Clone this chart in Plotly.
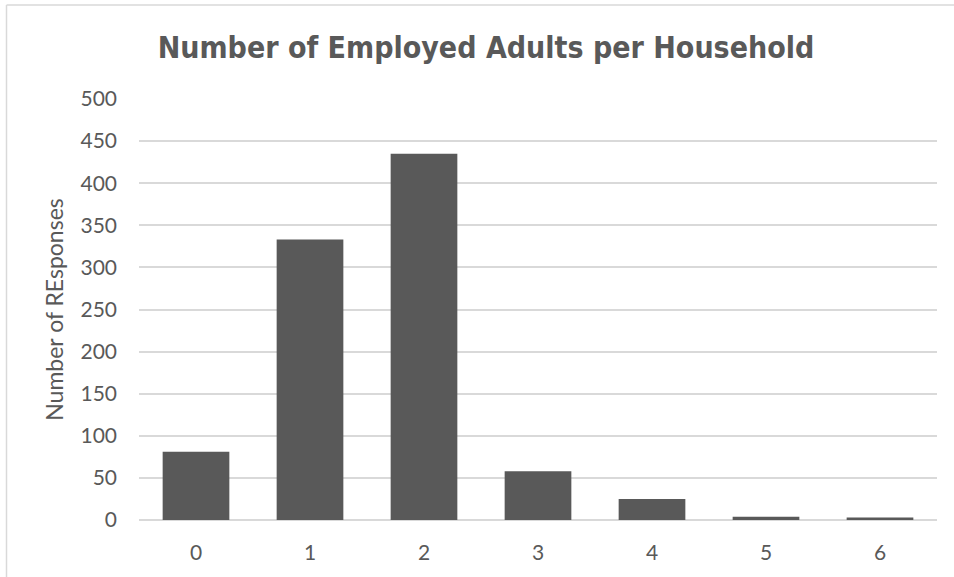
import plotly.graph_objects as go

categories = ["0", "1", "2", "3", "4", "5", "6"]
responses = [81, 333, 435, 58, 25, 4, 3]
y_ticks = [0, 50, 100, 150, 200, 250, 300, 350, 400, 450, 500]

TXT = "#595959"
fig = go.Figure(go.Bar(x=categories, y=responses, marker=dict(color="#595959", line=dict(width=0)), width=0.585))

W, H = 954, 577
ml, mr, mt, mb = 139, 17, 99, 57
pw, ph = W - ml - mr, H - mt - mb

fig.update_layout(
    width=W, height=H,
    margin=dict(l=ml, r=mr, t=mt, b=mb),
    paper_bgcolor="white", plot_bgcolor="white",
    title=dict(text="<b>Number of Employed Adults per Household</b>", x=486 / W, xref="container",
               xanchor="center", y=1 - 47 / H, yanchor="middle",
               font=dict(family="DejaVu Sans Condensed", size=30, color=TXT)),
    font=dict(family="Lato", color=TXT, size=21),
    showlegend=False,
    bargap=0.415,
    xaxis=dict(type="category", showgrid=False, zeroline=False, showline=False,
               ticks="", tickfont=dict(size=21, color=TXT), ticklabelstandoff=18),
    yaxis=dict(range=[0, 500], tickvals=y_ticks, showgrid=True, gridcolor="#d9d9d9", gridwidth=1.5,
               zeroline=True, zerolinecolor="#d9d9d9", zerolinewidth=1.5, showline=False, ticks="",
               tickfont=dict(size=21, color=TXT), ticklabelstandoff=21,
               title=dict(text="Number of REsponses", font=dict(size=23, color=TXT), standoff=10)),
    shapes=[
        dict(type="line", xref="paper", yref="paper",
             x0=(6.5 - ml) / pw, x1=(6.5 - ml) / pw, y0=-10, y1=(H - 5 - mb) / ph,
             line=dict(color="#d9d9d9", width=1.5)),
        dict(type="line", xref="paper", yref="paper",
             x0=(6.5 - ml) / pw, x1=10, y0=(H - 5 - mb) / ph, y1=(H - 5 - mb) / ph,
             line=dict(color="#d9d9d9", width=1.5)),
    ],
)

fig.write_html("out.html")
